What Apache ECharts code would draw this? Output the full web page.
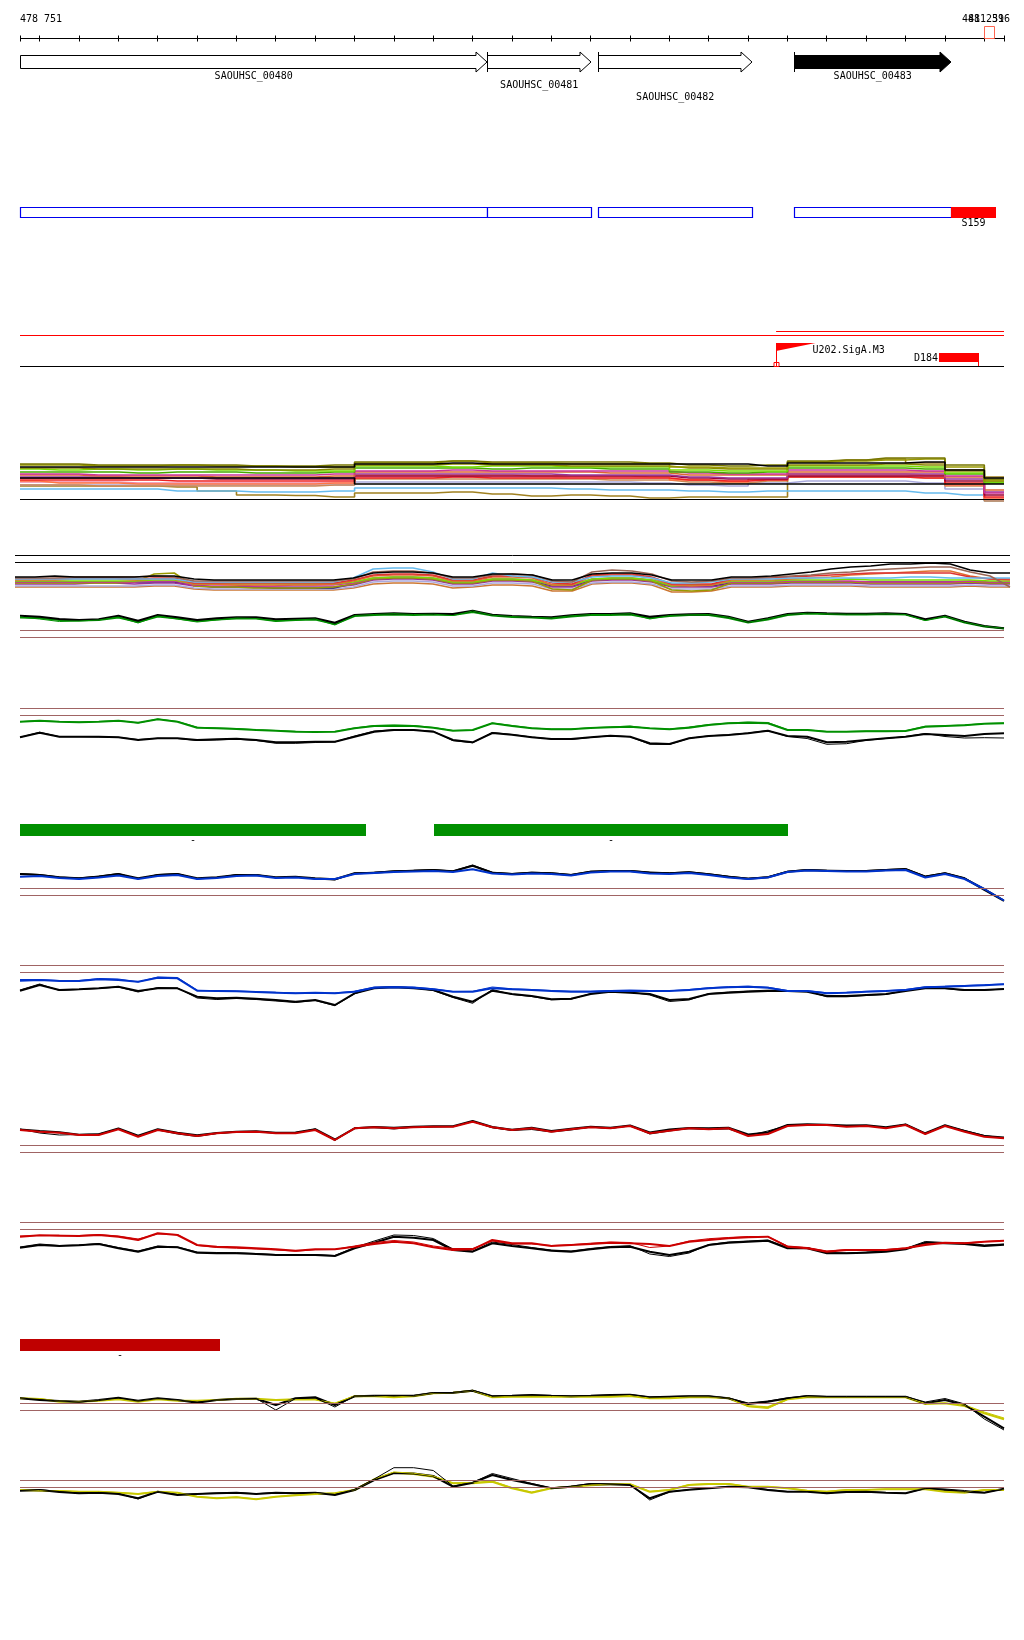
<!DOCTYPE html>
<html><head><meta charset="utf-8">
<script src="https://cdn.jsdelivr.net/npm/echarts@6.0.0/dist/echarts.min.js"></script>
<style>html,body{margin:0;padding:0;background:#fff}#c{width:1024px;height:1640px}</style>
</head><body><div id="c"></div>
<script>
// ---------------- DATA ----------------
const XMIN = 478751, XMAX = 481251;
const TICKS = [478751,478800,478900,479000,479100,479200,479300,479400,479500,479600,479700,479800,479900,480000,480100,480200,480300,480400,480500,480600,480700,480800,480900,481000,481100,481200,481251];
const END_LABELS = ['481 251', '481 396'];
const VIEW_MARKER = [481200, 481226];
const GENES = [
  {name:'SAOUHSC_00480', start:478620, end:479937, row:0},
  {name:'SAOUHSC_00481', start:479937, end:480202, row:1},
  {name:'SAOUHSC_00482', start:480220, end:480611, row:2},
  {name:'SAOUHSC_00483', start:480718, end:481116, row:0}
];
const SELECTED_GENE = 'SAOUHSC_00483';
const SITES = [{name:'S159', start:481116, end:481231}];
const STRAND_LINES = [{start:478751, end:481251, level:0},{start:480672, end:481251, level:1}];
const PROMOTERS = [{name:'U202.SigA.M3', pos:480672}];
const TERMINATORS = [{name:'D184', start:481086, end:481188}];
const GREEN_BARS = [{name:'-', start:478751, end:479630},{name:'-', start:479803, end:480702}];
const RED_BARS = [{name:'-', start:478751, end:479259}];

const POS_FINE = [478751,478801,478851,478901,478951,479001,479051,479101,479151,479201,
479251,479301,479351,479401,479451,479501,479551,479601,479651,479701,
479751,479801,479851,479901,479951,480001,480051,480101,480151,480201,
480251,480301,480351,480401,480451,480501,480551,480601,480651,480701,
480751,480801,480851,480901,480951,481001,481051,481101,481151,481201,481251];
const POS_COARSE = [478751,478851,478951,479051,479151,479251,479351,479451,479551,479651,479751,479851,479951,480051,480151,480251,480351,480451,480551,480651,480751,480851,480951,481051,481151,481251];

// multi-sample track 1 (coarse positions)
const MC1_L1 = [38,38,38,38,38,38,38,38,38,41,41,42,41,41,41,41,41,41,41,39,42,42,42,43,35,27];
const MC1_L2 = [40,40,39,39,40,39,39,38,38,42,42,44,42,42,41,41,41,38,37,37,43,44,45,46,38,25];
const MC1_L3 = [36,35,36,35,36,35,35,34,34,39,39,38,39,39,38,38,38,35,34,34,39,39,39,38,32,23];
const MC1_L4 = [33,33,33,32,33,33,32,32,33,37,37,37,36,37,37,36,36,33,32,33,37,37,37,36,31,22];
const MC1_L5 = [37,37,36,36,36,36,35,35,36,40,40,41,40,40,39,39,39,37,36,36,40,40,41,40,34,24];
const MC1_L6 = [30,30,29,29,29,28,28,28,29,33,33,33,33,33,33,32,32,30,30,30,33,33,33,33,28,15];
const MC1_L7 = [28,28,28,27,27,27,27,27,27,31,31,31,31,31,30,30,30,28,27,27,31,31,31,31,26,13];
const MC1_L8 = [27,27,27,27,27,26,26,26,26,29,29,29,29,29,29,29,29,27,26,26,29,29,29,29,24,10];
const MC1_L9 = [25,25,25,25,24,24,24,24,24,27,27,28,27,27,27,27,27,25,24,25,28,28,28,27,22,8];
const MC1_L10 = [24,22,22,21,21,21,21,21,22,30,30,30,30,29,29,29,28,25,23,26,31,31,31,30,20,6];
const MC1_L11 = [20,20,19,19,19,19,19,19,20,26,26,26,26,26,26,25,25,23,22,24,28,28,28,27,19,4];
const MC1_L12 = [16,16,16,16,14,14,13,13,14,17,17,17,17,17,16,15,15,14,13,14,14,14,14,12,10,4];
const MC1_L13 = [20,20,20,20,20,20,20,20,20,23,23,23,23,23,23,23,22,20,19,22,24,24,24,22,16,5];
const MC1_L14 = [19,19,19,19,18,14,10,9.5,8,12,12,13,11,9,10,9,7,8,8,8,43,45,46,42,35,28];
const MC1_L15 = [23,23,23,22,22,22,22,22,22,28,28,28,28,28,27,27,27,25,24,26,30,30,30,29,20,7];
const MC1_L16 = [31,31,30,30,30,30,30,30,31,34,34,35,34,34,34,34,34,32,31,31,35,35,35,34,29,12];
const MC1_L17 = [27,27,27,27,27,27,27,27,27,21,21,21,21,21,21,21,21,21,21,21,21,21,21,21,21,21];
const MC1_L18 = [41,41,40,40,40,40,39,39,40,43,43,44,43,43,43,43,42,40,39,40,44,45,47,47,40,26];
const MC1_REF = [6];

// multi-sample track 2 (fine positions)
const MC2_M1 = [23,23,24,23,23,23,23,24,24,21,20,20,20,20,20,20,20,22,27,28,28,27,23,23,26,26,25,20,20,26,27,27,25,20,20,20,23,23,24,26,28,31,33,34,36,36,37,36,30,27,27];
const MC2_M2 = [22,22,22,23,23,23,23,24,23,19,19,19,19,19,19,19,19,21,28,29,29,27,22,22,25,26,25,19,18,28,30,29,26,19,18,19,22,22,23,24,25,27,28,30,31,32,33,33,28,24,13];
const MC2_M3 = [21,21,21,21,21,21,21,21,21,18,18,18,18,18,18,18,18,22,31,32,32,28,21,21,27,24,23,18,18,23,24,24,22,17,17,18,21,21,21,22,22,22,22,22,22,23,23,22,22,22,22];
const MC2_M4 = [20,20,20,21,21,21,20,21,21,16,16,15,15,15,15,15,16,19,24,25,25,24,19,19,23,23,22,15,15,24,25,25,22,15,14,15,20,20,20,21,22,23,25,26,27,28,29,29,24,21,20];
const MC2_M5 = [19,19,19,19,19,19,19,20,20,16,16,16,16,16,16,16,16,18,22,23,23,22,18,18,21,21,20,15,15,21,22,22,20,14,15,15,19,19,19,20,20,20,21,20,20,20,20,20,20,19,19];
const MC2_M6 = [18,18,18,18,18,18,18,19,19,15,15,15,14,14,15,15,15,17,22,23,23,22,18,18,21,21,20,15,15,21,22,22,20,15,15,15,18,18,18,19,19,19,19,18,18,18,18,18,19,18,18];
const MC2_M7 = [17,17,17,17,17,17,18,26,27,14,13,13,12,12,12,12,13,16,21,22,22,21,17,17,20,20,19,11,10,20,21,21,19,10,9,10,17,17,17,18,18,18,18,17,17,17,17,17,18,17,17];
const MC2_M8 = [16,16,16,16,17,17,16,17,17,14,13,13,13,13,13,13,13,15,20,21,21,20,16,16,19,19,18,13,13,19,20,20,18,13,13,13,16,16,16,17,17,17,17,16,16,16,16,16,17,16,16];
const MC2_M9 = [14,14,14,14,14,14,14,15,15,12,11,11,11,11,11,11,11,13,18,19,19,18,14,14,17,17,16,11,11,17,18,18,16,11,11,11,14,14,14,15,15,15,15,14,14,14,14,14,15,14,14];
const MC2_M10 = [13,13,13,13,13,13,13,14,14,11,10,10,10,10,10,10,10,12,16,17,17,16,12,13,15,15,14,9,9,16,17,17,15,8,8,9,13,13,13,14,14,14,14,13,13,13,13,13,14,13,13];
const MC2_M11 = [21,21,21,22,22,22,21,22,22,17,17,17,17,17,17,17,17,20,25,26,26,25,20,20,24,24,23,17,16,25,26,26,23,16,16,16,21,21,22,23,24,25,26,27,27,27,27,27,23,21,21];
const MC2_M12 = [18,18,18,18,18,18,18,18,18,15,13,13,13,12,12,12,12,16,21,22,22,21,17,17,20,20,19,14,14,20,21,21,19,14,14,14,17,17,17,18,18,18,18,18,18,18,18,18,18,17,17];
const MC2_REF = [45, 37.7];

// track A (green / black)
const A_BLACK = [24.3,23.3,21,20,20.7,24.3,19.3,25,22.7,20,21.7,22.7,22.7,20.7,21.3,21.7,17.3,25,26,26.7,26,26.3,26,29.3,25.3,24,23.3,22.7,24.7,26,26,26.7,23.3,25,25.7,26,23.3,18.3,21.7,26,27.3,26.7,26.3,26.3,26.7,26,20.7,24.3,18.3,14,11.7];
const A_GREEN = [22.5,22,20,19.5,20,22.5,18,23.5,21.5,19,20.5,21.5,21.5,19,20,20.5,16,24,25,25.5,25,25.5,25,28,24.5,23,22.5,21.5,23.5,25,25,25.5,22,24,25,25,22,17.5,20.5,25,26.5,26,25.5,25.5,26,25.5,20,23.5,17.5,13.5,11.5];
const A_GREEN2 = [23,21,18.5,19,20,23,17,24,21,18,20,22,21.5,19,20,21,15,24.5,25.5,26.3,25.5,25.8,24.5,29,24.8,23.5,22.8,22,24.2,25.5,25.5,26.3,21,24.5,25.2,25.5,22.8,17.8,21.2,25.5,26.8,26.2,25.8,25.8,26.2,25.5,19.5,23.8,17.8,13.8,11.7];
const A_REF = [9.7, 2.7];
// track B (green / black)
const B_GREEN = [28.3,29.3,28.3,27.7,28.3,29.3,27.3,30.7,28.3,22.3,21.7,21,20,19.3,18.3,18,18.3,21.7,24,24.3,24,22.3,19.3,20,26.7,24,21.7,20.7,20.7,22,22.7,23.3,21.7,20.7,22.3,25,26.7,27.3,26.7,20,20,18.3,18.3,18.7,18.7,19,23.3,24,24.7,26.3,26.7];
const B_GREEN2 = [28.3,29.5,28.3,28,28.5,29.5,27,31,28.5,22.8,22,21.5,20.3,19.5,18.7,18.3,18.5,22,24.5,25,24.5,22.5,19.5,19.7,27,24.5,22,21,21,22.3,23,24,21.5,21,23,25.5,27,28,27.5,20.3,20.2,18.5,18.5,19,19,19.2,23.8,24.3,25,26.5,27];
const B_BLACK = [12.7,17.3,13.3,13.3,13.3,12.7,10,11.7,11.7,10,10.7,11.3,10,7.7,7.7,8.3,8.3,13.3,18.3,20,20,18.3,10,7.7,17,15.3,12.7,11,11,12.7,14.3,13.3,6.7,6,11.7,14,15,16.7,19.3,14,13.3,7.7,8.3,10,11.7,13.3,16,15,14,16,16.7];
const B_BLACK2 = [12.7,17.8,13.3,13.3,13,12.7,10.5,11.7,11.5,9.5,10,10.8,9.5,6.7,6.7,7.5,8,14,19,20.3,20,18.8,9.3,7.2,17.5,15.5,13,11,10.5,12.5,14.3,13.3,5.7,5.5,11.7,14.2,15.3,17,19.5,13.5,11.5,5.7,6.3,9.7,11.5,13.5,16.5,13.5,12,12.3,12];
const B_REF = [41.7, 34.7];
// track C (blue / black)
const C_BLACK = [36,35,32.7,31.7,33.3,36,31.7,35,36,31.7,32.7,35,35,32.7,33.3,31.7,30.7,36.7,37.3,38.7,39.3,40,38.7,44.3,37.3,36,37.3,36.7,35,38.3,39,39,37.3,36.7,37.7,35.7,33.3,31.3,32.7,38.3,40,39.3,39,39,40,40.7,33.3,36.7,31.7,20,9];
const C_BLACK2 = [36.5,35.5,33,32,34,36.5,31,35.5,36.5,31,32.2,35.5,35.5,32.2,33,31,30,37,37.8,39,39.8,40.5,39,45,37.8,36.5,37.8,37.2,35.5,38.8,39.5,39.5,38,37.2,38.2,36.2,33.8,31.8,33.2,38.8,40.5,39.8,39.5,39.5,40.5,41.5,34,37.2,32,21.5,10];
const C_BLUE = [33.3,34,32,31,32.5,34.5,31,34,35,31,32,34,34.5,32,32.5,31,31,36,37,38,38.5,39,38,40.7,36.5,35.5,36.5,36,34.5,37.5,38.5,38.5,36.5,36,37,35,32.5,31,32.5,38,39.5,39,38.5,38.5,39.5,40,32.5,36,31,21,9.5];
const C_REF = [22, 15];
// track D (blue / black)
const D_BLUE = [29.3,30,29,29,30.7,30,28.3,32.3,31.7,19.3,19,18.7,18,17.3,16.7,17.3,16.7,18.3,22.3,22.7,22.3,20.7,18.3,18.3,21.7,20.7,20,19,18.3,18.3,19,19.3,19,19,20,21.7,22.7,23.3,22.3,19,19,16.7,17.3,18.3,19,20,22.7,23.3,24,24.7,25.7];
const D_BLUE2 = [30.5,30.5,29.5,29.5,31.5,31,28,33,32.5,19.8,19.3,19,18.3,17.8,17,16.7,17,18.8,23,23.3,23,21.2,18.5,18.7,23,21.2,20.5,19.5,18.8,18.8,19.5,19.8,19.5,19.2,20.5,22.3,23.3,23.8,22.8,19.5,19.3,17.2,17.7,18.7,19.3,20.5,23.2,23.8,24.5,25.2,26];
const D_BLACK = [19.3,25,20,20.7,21.7,23.3,19,21.7,21.7,13.3,11.7,12.3,11.3,10,8.3,10,5,16.7,21.7,22.7,21.7,20,13.3,8.3,19.3,16,14,10.7,11.3,16,18.3,17.3,16,10,11,16,17.3,18.3,19,19,18.3,14,14,15,16,19,21.7,21.7,20,20,21];
const D_BLACK2 = [20,26,19.5,20.5,21.5,23,18,22.5,22,12,10.5,11.5,10.5,9,7.5,9.5,4.3,16.2,22.5,23.2,22.2,19.5,12.5,6.7,20.5,15.5,13.5,10.2,10.8,16.5,19,17.8,15,8.5,10,16.5,18,19,19.8,19.5,18.8,13.2,13.2,14.5,15.5,19.5,22.2,21.5,19.5,19.8,21];
const D_REF = [45, 37.7];
// track E (red / black)
const E_RED = [30,28.3,27.3,25,25,30.7,23.3,30,26.7,24,26.7,28,28.3,26.7,26.7,30,20,31.7,32.7,31.7,32.7,33.3,33.3,38.3,32.7,30,31.7,28.3,30.7,32.7,31.7,34,26.7,29.3,31.7,30.7,31.7,24,26,34,35,35,33.3,34,31.7,35,26,34,28.3,23.3,21.7];
const E_BLACK = [30.5,29,27.8,25.3,25.8,31.5,24.3,30.7,27.3,24.8,27,28.3,28.8,27.3,27.5,30.8,20.5,31.7,33,32.3,33.3,33.7,33.7,39,33,30.3,32.3,29,31.3,33.3,32.3,34.5,27.5,30.5,32,31.7,32.3,25.5,27.5,35,35.7,35.3,34.5,34.7,32.7,35.5,26.7,34.7,29,24,22.5];
const E_BLACK2 = [31,27,25,25.5,26,31,24,30,26,23.5,26.5,28,28.5,27,27,31,19.5,32,32.5,31,32.8,33,33.5,38.5,32.2,29.5,30.5,28,30,33,31.5,34.3,26,29,31.5,30.5,31,24.5,29,34.5,35.5,35.5,34,34.5,32,35.8,26.5,34.5,29.5,24.5,22];
const E_REF = [15, 7.7];
// track F (red / black)
const F_RED = [28.3,29.7,29.3,29,30,28.3,25,31.7,30,20,18.3,17.7,16.7,15.7,14.3,15.7,15.7,18.3,21,23.3,21.7,17.7,15,15.7,25,21.7,21.7,19,20,21,22.3,21.7,21,19,23.3,25,26.7,27.7,28.3,18.3,16.7,13.3,15,15,15,16.7,20,22.3,21.7,23.3,24.3];
const F_RED2 = [29,29.5,29.8,29.5,30.5,29,26,31,30.5,19.5,17.5,16.8,16,15,13.8,15.2,15.5,19,22.5,24.5,23,19,16.5,16.5,24,21,21,19.5,20.3,21.8,23,22.5,17.5,19,24,26.3,27.5,28.5,28.5,19,17.5,14,15.5,15.5,15.5,17,21,22.5,22,23.5,24.5];
const F_BLACK = [17.3,20,19,19.7,21,16.7,13.3,18.3,17.7,12.3,11.7,11.7,11,10,10,10,9,16.7,22.3,28.3,27.3,25,15,13.3,21.7,19,16.7,14.3,13.3,15.7,17.7,18.3,13.3,10,13.3,20,22.3,23.3,24.3,16.7,16.7,11.7,11.7,12.3,13.3,15.7,22.3,21.7,21,19,20.3];
const F_BLACK2 = [18,21,19.5,20,21.5,17.5,14,19,18,13,12.5,12.3,11.5,10.5,10.5,10.5,9.5,17.5,24,30,29.5,26.5,16,14,23,20.5,17.5,15,14,16.5,18.5,19.3,11,8.5,12,20.5,23,24,25,17.5,17.5,12.5,12,13,14,16.5,23.5,22.5,22,20,21];
const F_REF = [42.7, 35.7];
// track G (yellow / black)
const G_BLACK = [41.7,40,39,38.3,40,42.3,39.3,41.7,40,37.3,40,41,41.3,35,41.7,42.7,35,43.7,44.3,44.3,44.3,47,47.3,49.3,43.7,44.3,45,44.3,43.7,44.3,45,45.3,42.7,43.3,43.7,43.7,41.7,36,38.3,41.7,43.7,43.3,43.3,43.3,43.3,43.3,36.7,40,35,23.3,11.7];
const G_BLACK2 = [42,40.5,39,38,39.5,42,39,41.5,40,38,40,41,41.5,30,41.5,42,33,44,44.5,44.3,44.5,47.5,47.5,49.8,44,44.5,45,44.5,44,44.5,45,45.5,43,43.5,44,44,42,37,39,42,44.5,43.5,43.5,43.5,43.5,43.5,38,41.5,36,21,10];
const G_YELLOW = [41.7,41,38.3,38.3,39.3,40.7,38.3,40.7,39.3,39.3,40,41.3,41.3,40,40.7,40.7,36,43.7,43.7,42.7,43.7,46.7,47.3,49.3,42.7,43.3,43.3,43.3,43.3,43.3,43.3,44,41.7,41.7,42.7,42.7,41.7,34,32.7,40.7,42.7,42.7,42.7,42.7,42.7,42.7,36,36.7,34,26.7,20.7];
const G_YELLOW2 = [41.7,41.5,38.8,38.3,39.5,41,38.8,41,39.5,39,40,41,41,39.5,40.2,40.2,37,44,44.2,43,44.2,47,47.5,49.5,43,43.8,43.8,43.5,43.5,43.8,43.8,44.5,42,42,43.2,43.2,42,33.3,31.5,40.5,43,43,43,43,43,43,36.5,37,35,28,22];
const G_REF = [36.7, 29.7];
// track H (yellow / black)
const H_BLACK = [19.3,20,18,16.7,17.3,16,11.7,18.3,15,16,16.7,17.3,16,17.3,16.7,17.3,15,20,30,37,36.5,34,23.3,27.3,35,30,26,21.7,23.3,26,25.7,25,11.7,18.3,20.3,21.7,23.3,22.7,20,18.3,18.3,16.7,18,18.3,17.3,16.7,21.7,20,18.3,17.3,21.3];
const H_BLACK2 = [19.5,20.3,18.5,17,17.5,16.5,11,18.5,15.5,16.3,17,17.5,16.3,17.5,17,17.5,15.5,20.5,31,42.3,42.3,39.5,24,27.5,36.5,31.5,26.5,22,23.8,26.5,26,25.3,10,18,20.5,22,23.5,23,20.5,18.5,18.5,17,18.3,18.5,17.5,16.7,21.5,21,19.5,17.5,21];
const H_YELLOW = [20,19.3,19,18.3,18.3,17.3,16,18.3,17.3,13.3,11.7,12.7,10.7,13.3,14.7,16,16.7,20,30.7,37.3,36,33.3,26.7,26.7,28.3,21.7,17.3,21.7,23.3,24.7,25.7,25.7,18.3,20,25,26,26,23.3,23.3,21.7,19.3,18.3,20,20,20.7,20.7,20.7,18.3,17.3,20,20];
const H_YELLOW2 = [20.3,19.5,19.3,18.5,18.5,17.5,16.3,18.5,17.3,13.5,12,13,11,13.3,15,16.3,17,20.3,31,38,36.8,34,27,27.5,29,22.5,18,22,23.5,25,26,26,18.7,20.3,25.5,26.3,26.5,23.5,23.5,22,19.5,18.7,20.3,20.3,21,21,21,18.7,17.7,20.3,20.5];
const H_REF = [30, 22.7];

// ---------------- LAYOUT / STYLE ----------------
const FONT = '10px "DejaVu Sans Mono", "Liberation Mono", monospace';
const BROWN = '#a06464';
const GREEN = '#009000', BLUE = '#0033cc', RED = '#cc0000', YELLOW = '#c8c800';
const MAIN_W = 2, THIN_W = 1, MC_W = 1.6;
const GRIDS = [
  {top:20, height:90, ymax:1},
  {top:200, height:30, ymax:1},
  {top:320, height:50, ymax:1},
  {top:455, height:50, ymax:50},
  {top:550, height:50, ymax:50, left:15, width:995},
  {top:600, height:40, ymax:40},
  {top:700, height:50, ymax:50},
  {top:815, height:30, ymax:1},
  {top:860, height:50, ymax:50},
  {top:960, height:50, ymax:50},
  {top:1110, height:50, ymax:50},
  {top:1215, height:50, ymax:50},
  {top:1330, height:30, ymax:1},
  {top:1390, height:50, ymax:50},
  {top:1460, height:50, ymax:50}
];
const LABEL_ROW_Y = [56.3, 65.5, 77.2];

const px = v => Math.round(v) + 0.5;
const fmtPos = v => String(v).replace(/\B(?=(\d{3})+(?!\d))/g, ' ');
function txt(text, x, y, align, color) {
  return {type:'text', style:{text, x, y, fill: color || '#000', font: FONT,
    align: align || 'center', verticalAlign:'middle', textAlign: align || 'center', textVerticalAlign:'middle'}};
}
function custom(gi, data, renderItem) {
  return {type:'custom', xAxisIndex:gi, yAxisIndex:gi, data, renderItem, clip:false, silent:true, animation:false};
}
function lineS(gi, xs, ys, color, width, refs, refColor, step) {
  const s = {type:'line', xAxisIndex:gi, yAxisIndex:gi, data: xs.map((x,i)=>[x, ys[i]]),
    showSymbol:false, symbol:'none', lineStyle:{color, width}, itemStyle:{color},
    silent:true, animation:false, clip:false};
  if (step) s.step = step;
  if (refs) s.markLine = {silent:true, symbol:['none','none'], label:{show:false}, animation:false,
    lineStyle:{color: refColor || BROWN, width:1, type:'solid'}, emphasis:{disabled:true},
    data: refs.map(v => ({yAxis: v}))};
  return s;
}

const series = [];
// ruler
series.push(custom(0, [[XMIN, XMAX]], (p, api) => {
  const cs = p.coordSys, y = cs.y + 18.5;
  const x1 = api.coord([XMIN,0])[0], x2 = api.coord([XMAX,0])[0];
  return {type:'group', children:[
    {type:'line', shape:{x1, y1:y, x2, y2:y}, style:{stroke:'#000', lineWidth:1}},
    txt(fmtPos(XMIN), x1, cs.y - 1, 'left'),
    txt(END_LABELS[0], x2 - 42, cs.y - 1, 'left'),
    txt(END_LABELS[1], x2 - 36, cs.y - 1, 'left')
  ]};
}));
series.push(custom(0, TICKS.map(t => [t, 0]), (p, api) => {
  const cs = p.coordSys, x = px(api.coord([TICKS[p.dataIndex],0])[0]);
  return {type:'line', shape:{x1:x, y1:cs.y+15.5, x2:x, y2:cs.y+21.5}, style:{stroke:'#000', lineWidth:1}};
}));
series.push(custom(0, [VIEW_MARKER], (p, api) => {
  const cs = p.coordSys;
  const a = px(api.coord([VIEW_MARKER[0],0])[0]), b = px(api.coord([VIEW_MARKER[1],0])[0]);
  return {type:'rect', shape:{x:a, y:cs.y+6.5, width:b-a, height:12}, style:{fill:'none', stroke:'#ff6650', lineWidth:1}};
}));
// genes
series.push(custom(0, GENES.map(g => [g.start, g.end]), (p, api) => {
  const g = GENES[p.dataIndex], cs = p.coordSys;
  let x0 = api.coord([g.start,0])[0];
  const x1 = Math.round(api.coord([g.end,0])[0]);
  const clipped = x0 < cs.x;
  if (clipped) x0 = cs.x;
  x0 = px(x0);
  const mid = cs.y + 42, bh = 6.5, hh = 10, hl = 11, xh = x1 - hl;
  const filled = g.name === SELECTED_GENE;
  const ch = [{type:'polygon', shape:{points:[[x0,mid-bh],[xh,mid-bh],[xh,mid-hh],[x1,mid],[xh,mid+hh],[xh,mid+bh],[x0,mid+bh]]},
    style:{fill: filled ? '#000' : '#fff', stroke:'#000', lineWidth:1}}];
  if (!clipped) ch.push({type:'line', shape:{x1:x0, y1:mid-hh, x2:x0, y2:mid+hh}, style:{stroke:'#000', lineWidth:1}});
  ch.push(txt(g.name, (x0 + x1) / 2, cs.y + LABEL_ROW_Y[g.row], 'center'));
  return {type:'group', children:ch};
}));
// CDS boxes
series.push(custom(1, GENES.map(g => [g.start, g.end]), (p, api) => {
  const g = GENES[p.dataIndex], cs = p.coordSys;
  const x0 = px(Math.max(api.coord([g.start,0])[0], cs.x)), x1 = px(api.coord([g.end,0])[0]);
  return {type:'rect', shape:{x:x0, y:cs.y+7.5, width:x1-x0, height:10}, style:{fill:'#fff', stroke:'#0000ee', lineWidth:1.2}};
}));
series.push(custom(1, SITES.map(s => [s.start, s.end]), (p, api) => {
  const s = SITES[p.dataIndex], cs = p.coordSys;
  const x0 = Math.round(api.coord([s.start,0])[0]), x1 = Math.round(api.coord([s.end,0])[0]);
  return {type:'group', children:[
    {type:'rect', shape:{x:x0, y:cs.y+7, width:x1-x0, height:11}, style:{fill:'#ff0000'}},
    txt(s.name, (x0+x1)/2, cs.y+23.5, 'center')
  ]};
}));
// strand lines, baseline, promoters, terminators
series.push(custom(2, STRAND_LINES.map(s => [s.start, s.end]), (p, api) => {
  const s = STRAND_LINES[p.dataIndex], cs = p.coordSys;
  const y = cs.y + (s.level === 0 ? 15.5 : 11.5);
  return {type:'line', shape:{x1:api.coord([s.start,0])[0], y1:y, x2:api.coord([s.end,0])[0], y2:y}, style:{stroke:'#ff0000', lineWidth:1}};
}));
series.push(custom(2, [[XMIN, XMAX]], (p, api) => {
  const cs = p.coordSys, y = cs.y + 46.5;
  return {type:'line', shape:{x1:api.coord([XMIN,0])[0], y1:y, x2:api.coord([XMAX,0])[0], y2:y}, style:{stroke:'#000', lineWidth:1}};
}));
series.push(custom(2, PROMOTERS.map(d => [d.pos, 0]), (p, api) => {
  const d = PROMOTERS[p.dataIndex], cs = p.coordSys;
  const x = px(api.coord([d.pos,0])[0]), top = cs.y + 23, base = cs.y + 46;
  return {type:'group', children:[
    {type:'line', shape:{x1:x, y1:top, x2:x, y2:base}, style:{stroke:'#ff0000', lineWidth:1}},
    {type:'polygon', shape:{points:[[x-0.5,top],[x+39,top],[x-0.5,top+8]]}, style:{fill:'#ff0000'}},
    {type:'rect', shape:{x:x-2.5, y:base-3.5, width:5, height:4}, style:{fill:'none', stroke:'#ff0000', lineWidth:1}},
    txt(d.name, x + 36, cs.y + 30, 'left')
  ]};
}));
series.push(custom(2, TERMINATORS.map(d => [d.start, d.end]), (p, api) => {
  const d = TERMINATORS[p.dataIndex], cs = p.coordSys;
  const x0 = Math.round(api.coord([d.start,0])[0]), x1 = Math.round(api.coord([d.end,0])[0]);
  return {type:'group', children:[
    {type:'rect', shape:{x:x0, y:cs.y+33, width:x1-x0, height:9}, style:{fill:'#ff0000'}},
    {type:'line', shape:{x1:x1-0.5, y1:cs.y+42, x2:x1-0.5, y2:cs.y+46}, style:{stroke:'#ff0000', lineWidth:1}},
    txt(d.name, x0 - 1, cs.y + 38.5, 'right')
  ]};
}));
// region bars
function barSeries(gi, bars, color) {
  return custom(gi, bars.map(b => [b.start, b.end]), (p, api) => {
    const b = bars[p.dataIndex], cs = p.coordSys;
    const x0 = Math.round(api.coord([b.start,0])[0]), x1 = Math.round(api.coord([b.end,0])[0]);
    return {type:'group', children:[
      {type:'rect', shape:{x:x0, y:cs.y+9, width:x1-x0, height:12}, style:{fill:color}},
      txt(b.name, (x0+x1)/2, cs.y+25.5, 'center')
    ]};
  });
}
series.push(barSeries(7, GREEN_BARS, GREEN));
series.push(barSeries(12, RED_BARS, '#bf0000'));

// multi-sample track 1
[[MC1_L14,'#a08020'],[MC1_L12,'#66bbee'],[MC1_L13,'#aaaadd'],[MC1_L11,'#cc8855'],[MC1_L15,'#ee88aa'],
 [MC1_L10,'#ff7744'],[MC1_L9,'#ee2222'],[MC1_L8,'#990033'],[MC1_L7,'#993399'],[MC1_L6,'#dd6633'],
 [MC1_L16,'#cc3399'],[MC1_L4,'#44aa00'],[MC1_L3,'#77dd00'],[MC1_L5,'#888800'],[MC1_L2,'#999900'],
 [MC1_L18,'#777700'],[MC1_L17,'#000000'],[MC1_L1,'#000000']].forEach(([d,c],i) =>
  series.push(lineS(3, POS_COARSE, d, c, MC_W, i === 0 ? MC1_REF : null, '#000', 'middle')));
// multi-sample track 2
[[MC2_M10,'#cc7733'],[MC2_M9,'#aaaadd'],[MC2_M12,'#222266'],[MC2_M8,'#993399'],[MC2_M7,'#999900'],
 [MC2_M6,'#cc3399'],[MC2_M5,'#77dd00'],[MC2_M4,'#e07030'],[MC2_M11,'#dd3333'],[MC2_M3,'#66bbee'],
 [MC2_M2,'#996655'],[MC2_M1,'#000000']].forEach(([d,c],i) =>
  series.push(lineS(4, POS_FINE, d, c, MC_W, i === 0 ? MC2_REF : null, '#000')));

// expression tracks
series.push(lineS(5, POS_FINE, A_GREEN, GREEN, MAIN_W, A_REF));
series.push(lineS(5, POS_FINE, A_BLACK, '#000', MAIN_W));
series.push(lineS(5, POS_FINE, A_GREEN2, GREEN, THIN_W));

series.push(lineS(6, POS_FINE, B_BLACK2, '#000', THIN_W, B_REF));
series.push(lineS(6, POS_FINE, B_BLACK, '#000', MAIN_W));
series.push(lineS(6, POS_FINE, B_GREEN2, GREEN, THIN_W));
series.push(lineS(6, POS_FINE, B_GREEN, GREEN, MAIN_W));

series.push(lineS(8, POS_FINE, C_BLACK2, '#000', THIN_W, C_REF));
series.push(lineS(8, POS_FINE, C_BLACK, '#000', MAIN_W));
series.push(lineS(8, POS_FINE, C_BLUE, BLUE, MAIN_W));

series.push(lineS(9, POS_FINE, D_BLACK2, '#000', THIN_W, D_REF));
series.push(lineS(9, POS_FINE, D_BLACK, '#000', MAIN_W));
series.push(lineS(9, POS_FINE, D_BLUE2, BLUE, THIN_W));
series.push(lineS(9, POS_FINE, D_BLUE, BLUE, MAIN_W));

series.push(lineS(10, POS_FINE, E_BLACK2, '#000', THIN_W, E_REF));
series.push(lineS(10, POS_FINE, E_BLACK, '#000', MAIN_W));
series.push(lineS(10, POS_FINE, E_RED, RED, MAIN_W));

series.push(lineS(11, POS_FINE, F_BLACK2, '#000', THIN_W, F_REF));
series.push(lineS(11, POS_FINE, F_BLACK, '#000', MAIN_W));
series.push(lineS(11, POS_FINE, F_RED2, RED, THIN_W));
series.push(lineS(11, POS_FINE, F_RED, RED, MAIN_W));

series.push(lineS(13, POS_FINE, G_YELLOW, YELLOW, MAIN_W, G_REF));
series.push(lineS(13, POS_FINE, G_BLACK, '#000', MAIN_W));
series.push(lineS(13, POS_FINE, G_YELLOW2, YELLOW, THIN_W));
series.push(lineS(13, POS_FINE, G_BLACK2, '#000', THIN_W));

series.push(lineS(14, POS_FINE, H_YELLOW, YELLOW, MAIN_W, H_REF));
series.push(lineS(14, POS_FINE, H_BLACK, '#000', MAIN_W));
series.push(lineS(14, POS_FINE, H_YELLOW2, YELLOW, THIN_W));
series.push(lineS(14, POS_FINE, H_BLACK2, '#000', THIN_W));

const option = {
  animation: false,
  backgroundColor: '#fff',
  grid: GRIDS.map(g => ({left: g.left ?? 20, width: g.width ?? 984, top: g.top, height: g.height, show:false})),
  xAxis: GRIDS.map((g,i) => ({type:'value', gridIndex:i, min:XMIN, max:XMAX, show:false})),
  yAxis: GRIDS.map((g,i) => ({type:'value', gridIndex:i, min:0, max:g.ymax, show:false})),
  series
};
const chart = echarts.init(document.getElementById('c'), null, {renderer:'canvas'});
chart.setOption(option);
</script>
</body></html>
